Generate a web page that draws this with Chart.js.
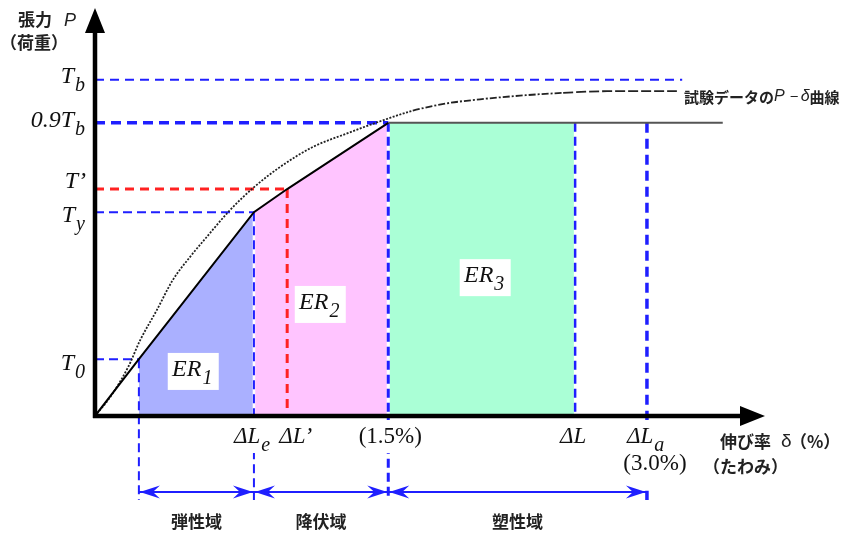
<!DOCTYPE html>
<html>
<head>
<meta charset="utf-8">
<script src="https://cdn.jsdelivr.net/npm/chart.js@4.4.0/dist/chart.umd.min.js"></script>
<style>
  body { margin: 0; background: #fff; }
  #wrap { width: 855px; height: 536px; position: relative; }
</style>
</head>
<body>
<div id="wrap"><canvas id="chart"></canvas></div>
<script>
// test data P-δ curve (x: elongation, y: load, both in axis units 0..100)
var curveX = [0, 2.3, 5.0, 6.8, 9.3, 11.7, 14.3, 16.8, 20.3, 23.8, 27.8, 32.8, 37.9, 42.9, 47.8, 52.9, 57.9, 63.9, 70.4, 77.0, 87.5];
var curveY = [0, 4.7, 12.1, 18.7, 26.1, 33.5, 39.2, 44.1, 50.7, 56.2, 61.3, 66.3, 69.6, 72.6, 75.2, 77.0, 78.0, 78.9, 79.6, 80.0, 80.0];

// load levels: Tb, 0.9Tb, T', Ty, T0
var loadLevels = [82.8, 72.2, 55.9, 50.2, 14.0];
// elongation marks: at T0, ΔLe, ΔL', 1.5%, ΔL, ΔLa, end of plateau, end of Tb line
var elongMarks = [6.6, 23.9, 28.9, 44.1, 72.2, 83.0, 94.4, 88.3];

// idealised trilinear model
var modelX = [0, 6.6, 23.9, 28.9, 44.1, 94.4];
var modelY = [0, 14.0, 50.2, 55.9, 72.2, 72.2];

// region label centres (ER1, ER2, ER3)
var erX = [14.7, 33.8, 58.6];
var erY = [11.1, 27.6, 34.2];

var zoneNames = ['弾性域', '降伏域', '塑性域'];
var arrowRowY = -18.7;
var guideBottom = -20.7;

var BLUE = '#1f1fff';
var RED = '#ff2222';

function pts(xs, ys) {
    return xs.map(function(x, i) { return { x: x, y: ys[i] }; });
}

function guide(data, color, width, dash, order) {
    return {
        data: data, showLine: true, borderColor: color, borderWidth: width,
        borderDash: dash, pointRadius: 0, fill: false, clip: false, order: order || 2
    };
}

var m = elongMarks, L = loadLevels;

var datasets = [
    // ER1 / ER2 / ER3 areas
    { data: [{x: m[0], y: L[4]}, {x: m[1], y: L[3]}], showLine: true, borderWidth: 0, pointRadius: 0,
      fill: 'origin', backgroundColor: 'rgb(170,176,255)', order: 10 },
    { data: [{x: m[1], y: L[3]}, {x: m[2], y: L[2]}, {x: m[3], y: L[1]}], showLine: true, borderWidth: 0, pointRadius: 0,
      fill: 'origin', backgroundColor: 'rgb(255,196,255)', order: 10 },
    { data: [{x: m[3], y: L[1]}, {x: m[4], y: L[1]}], showLine: true, borderWidth: 0, pointRadius: 0,
      fill: 'origin', backgroundColor: 'rgb(170,255,214)', order: 10 },

    // white underlay behind vertical guides crossing the areas
    guide([{x: m[1], y: L[3]}, {x: m[1], y: 0}], '#fff', 2.5, [], 5),
    guide([{x: m[3], y: L[1]}, {x: m[3], y: 0}], '#fff', 3, [], 5),
    guide([{x: m[4], y: L[1]}, {x: m[4], y: 0}], '#fff', 2.5, [], 5),

    // horizontal guides
    guide([{x: 0, y: L[0]}, {x: m[7], y: L[0]}], BLUE, 2, [9, 6]),
    guide([{x: 0, y: L[1]}, {x: m[3], y: L[1]}], BLUE, 3.5, [10, 6]),
    guide([{x: 0, y: L[2]}, {x: m[2], y: L[2]}], RED, 3, [9, 6]),
    guide([{x: 0, y: L[3]}, {x: m[1], y: L[3]}], BLUE, 2, [9, 5]),
    guide([{x: 0, y: L[4]}, {x: m[0], y: L[4]}], BLUE, 2, [9, 5]),

    // vertical guides
    guide([{x: m[0], y: L[4]}, {x: m[0], y: guideBottom}], BLUE, 2, [9, 5]),
    guide([{x: m[1], y: L[3]}, {x: m[1], y: guideBottom}], BLUE, 2, [9, 5]),
    guide([{x: m[2], y: L[2]}, {x: m[2], y: 0}], RED, 3, [9, 6]),
    guide([{x: m[3], y: L[1]}, {x: m[3], y: guideBottom}], BLUE, 3, [9, 5]),
    guide([{x: m[4], y: L[1]}, {x: m[4], y: 0}], BLUE, 2.5, [9, 5]),
    guide([{x: m[5], y: L[1]}, {x: m[5], y: guideBottom}], BLUE, 3.5, [10, 6]),

    // zone span lines
    guide([{x: m[0], y: arrowRowY}, {x: m[5], y: arrowRowY}], BLUE, 2, []),

    // model line
    { data: pts(modelX.slice(0, 5), modelY.slice(0, 5)), showLine: true, borderColor: '#000', borderWidth: 2,
      pointRadius: 0, fill: false, order: 1 },
    { data: pts(modelX.slice(4), modelY.slice(4)), showLine: true, borderColor: '#555', borderWidth: 2,
      pointRadius: 0, fill: false, order: 1 },

    // test curve
    { data: pts(curveX, curveY), showLine: true, borderColor: '#222', borderWidth: 1.8, pointRadius: 0,
      fill: false, cubicInterpolationMode: 'monotone', order: 1, clip: false,
      segment: {
          borderDash: function(c) {
              var x = c.p0.parsed.x;
              if (x >= 70) return [10, 3];
              if (x >= 45) return [7, 2, 2, 2];
              return [2, 1.5];
          }
      } }
];

function subText(ctx, base, sub, x, y, align, size) {
    var big = 'italic ' + size + 'px "Liberation Serif"';
    var small = 'italic ' + Math.round(size * 0.85) + 'px "Liberation Serif"';
    ctx.font = big;
    var w1 = ctx.measureText(base).width;
    ctx.font = small;
    var w2 = sub ? ctx.measureText(sub).width : 0;
    var x0 = align === 'right' ? x - w1 - w2 : align === 'center' ? x - (w1 + w2) / 2 : x;
    ctx.textAlign = 'left';
    ctx.textBaseline = 'alphabetic';
    ctx.font = big;
    ctx.fillText(base, x0, y);
    if (sub) {
        ctx.font = small;
        ctx.fillText(sub, x0 + w1 + 1, y + 8);
    }
    return w1 + w2;
}

function head(ctx, tipX, tipY, dir, len, half) {
    // barbed arrow head pointing left (-1) or right (+1)
    ctx.beginPath();
    ctx.moveTo(tipX, tipY);
    ctx.lineTo(tipX - dir * len, tipY - half);
    ctx.lineTo(tipX - dir * len * 0.65, tipY);
    ctx.lineTo(tipX - dir * len, tipY + half);
    ctx.closePath();
    ctx.fill();
}

var decorations = {
    id: 'decorations',
    afterDatasetsDraw: function(chart) {
        var ctx = chart.ctx, xs = chart.scales.x, ys = chart.scales.y;
        var ox = xs.getPixelForValue(0), oy = ys.getPixelForValue(0);
        var top = chart.chartArea.top, right = chart.chartArea.right + 5;
        var px = function(i) { return xs.getPixelForValue(m[i]); };
        ctx.save();

        // clear the guides behind the elongation labels
        ctx.fillStyle = '#fff';
        ctx.fillRect(px(1) - 8, oy + 4, 16, 33);
        ctx.fillRect(px(3) - 8, oy + 4, 16, 33);
        ctx.fillRect(px(5) - 8, oy + 4, 16, 68);

        // axes with arrow heads
        ctx.strokeStyle = '#000';
        ctx.fillStyle = '#000';
        ctx.lineWidth = 4.5;
        ctx.beginPath();
        ctx.moveTo(ox, oy + 2);
        ctx.lineTo(ox, top + 20);
        ctx.moveTo(ox - 2, oy);
        ctx.lineTo(right - 20, oy);
        ctx.stroke();
        ctx.beginPath();
        ctx.moveTo(ox, top - 2);
        ctx.lineTo(ox - 10, top + 23);
        ctx.lineTo(ox + 10, top + 23);
        ctx.closePath();
        ctx.fill();
        ctx.beginPath();
        ctx.moveTo(right, oy);
        ctx.lineTo(right - 25, oy - 10);
        ctx.lineTo(right - 25, oy + 10);
        ctx.closePath();
        ctx.fill();

        // zone span arrow heads
        ctx.fillStyle = BLUE;
        var ay = ys.getPixelForValue(arrowRowY);
        var bounds = [m[0], m[1], m[3], m[5]];
        for (var i = 0; i < 3; i++) {
            var a = xs.getPixelForValue(bounds[i]) + 1;
            var b = xs.getPixelForValue(bounds[i + 1]) - 1;
            head(ctx, a, ay, -1, 20, 6.5);
            head(ctx, b, ay, 1, 20, 6.5);
        }

        // region labels on white boxes
        ['1', '2', '3'].forEach(function(s, k) {
            var cx = xs.getPixelForValue(erX[k]), cy = ys.getPixelForValue(erY[k]);
            ctx.fillStyle = '#fff';
            ctx.fillRect(cx - 25, cy - 18, 51, 37);
            ctx.fillStyle = '#111';
            subText(ctx, 'ER', s, cx - 1, cy + 5, 'center', 24);
        });

        ctx.fillStyle = '#111';
        // load level labels
        var ly = function(i) { return ys.getPixelForValue(L[i]); };
        subText(ctx, 'T', 'b', 84, ly(0) + 3, 'right', 24);
        subText(ctx, '0.9T', 'b', 84, ly(1) + 4, 'right', 24);
        ctx.font = 'italic 24px "Liberation Serif"';
        ctx.textAlign = 'right';
        ctx.fillText('T\u2019', 86, ly(2) - 1);
        subText(ctx, 'T', 'y', 84, ly(3) + 10, 'right', 24);
        subText(ctx, 'T', '0', 84, ly(4) + 11, 'right', 24);

        // elongation labels
        var by = oy + 27;
        subText(ctx, '\u0394L', 'e', px(1) - 20, by, 'left', 23);
        subText(ctx, '\u0394L\u2019', '', px(2) - 8, by, 'left', 23);
        ctx.font = '23px "Liberation Serif"';
        ctx.textAlign = 'center';
        ctx.fillText('(1.5%)', px(3) + 2, by);
        subText(ctx, '\u0394L', '', px(4) - 2, by, 'center', 23);
        subText(ctx, '\u0394L', 'a', px(5) - 20, by, 'left', 23);
        ctx.font = '23px "Liberation Serif"';
        ctx.textAlign = 'center';
        ctx.fillText('(3.0%)', px(5) + 8, by + 27);

        // Japanese captions
        ctx.fillStyle = '#222';
        ctx.font = 'bold 17px "Noto Sans CJK JP"';
        ctx.textAlign = 'left';
        ctx.textBaseline = 'middle';
        ctx.fillText('張力', 18, 20);
        ctx.font = 'italic 18px "Liberation Sans"';
        ctx.fillText('P', 64, 21);
        ctx.font = 'bold 17px "Noto Sans CJK JP"';
        ctx.fillText('（荷重）', 0, 43);

        ctx.font = 'bold 15px "Noto Sans CJK JP"';
        var cx0 = 684, cyc = 97;
        ctx.fillText('試験データの', cx0, cyc);
        var w = ctx.measureText('試験データの').width;
        ctx.font = 'italic 16px "Liberation Sans"';
        ctx.fillText('P－δ', cx0 + w, cyc);
        w += ctx.measureText('P－δ').width;
        ctx.font = 'bold 15px "Noto Sans CJK JP"';
        ctx.fillText('曲線', cx0 + w, cyc);

        ctx.font = 'bold 17px "Noto Sans CJK JP"';
        ctx.fillText('伸び率', 720, 442);
        ctx.font = '19px "Liberation Sans"';
        ctx.fillText('δ', 781, 442);
        ctx.font = 'bold 17px "Noto Sans CJK JP"';
        ctx.fillText('（%）', 790, 442);
        ctx.fillText('（たわみ）', 703, 467);

        ctx.textAlign = 'center';
        var mids = [(px(0) + px(1)) / 2, (px(1) + px(3)) / 2, (px(3) + px(5)) / 2];
        zoneNames.forEach(function(n, i) {
            ctx.fillText(n, mids[i], 522);
        });

        ctx.restore();
    }
};

new Chart(document.getElementById('chart'), {
    type: 'scatter',
    data: { datasets: datasets },
    options: {
        responsive: true,
        maintainAspectRatio: false,
        animation: false,
        layout: { padding: { left: 95, right: 95, top: 10, bottom: 120 } },
        scales: {
            x: { type: 'linear', min: 0, max: 100, display: false },
            y: { type: 'linear', min: 0, max: 100, display: false }
        },
        plugins: { legend: { display: false }, tooltip: { enabled: false } },
        elements: { line: { borderCapStyle: 'butt' } }
    },
    plugins: [decorations]
});
</script>
</body>
</html>
